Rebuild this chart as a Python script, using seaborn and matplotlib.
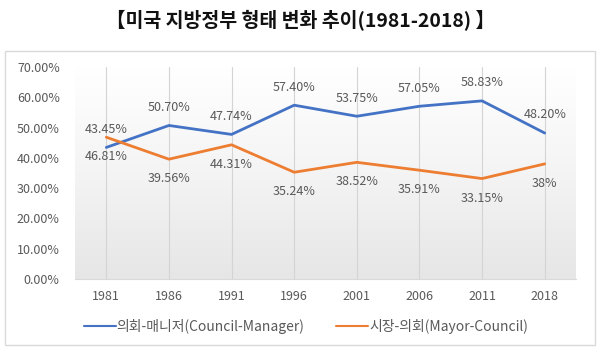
import numpy as np
import pandas as pd
import seaborn as sns
import matplotlib.pyplot as plt
from matplotlib.patches import Rectangle
from matplotlib.colors import LinearSegmentedColormap
from matplotlib.ticker import FuncFormatter

# -------------------------------------------------------------------
# Style
# -------------------------------------------------------------------
sns.set_style("white")
plt.rcParams['font.family'] = ['Noto Sans CJK KR', 'DejaVu Sans']

label_gray = "#595959"

# -------------------------------------------------------------------
# Data (share of local government forms, %)
# -------------------------------------------------------------------
years = ["1981", "1986", "1991", "1996", "2001", "2006", "2011", "2018"]
council_manager = [43.45, 50.70, 47.74, 57.40, 53.75, 57.05, 58.83, 48.20]
mayor_council = [46.81, 39.56, 44.31, 35.24, 38.52, 35.91, 33.15, 38]
series_names = ["의회-매니저(Council-Manager)", "시장-의회(Mayor-Council)"]
series_colors = ["#4472C4", "#ED7D31"]
title = "【미국 지방정부 형태 변화 추이(1981-2018) 】"

df = pd.DataFrame({
    "year": years * 2,
    "share": council_manager + mayor_council,
    "type": [series_names[0]] * len(years) + [series_names[1]] * len(years),
})

# -------------------------------------------------------------------
# Figure
# -------------------------------------------------------------------
fig = plt.figure(figsize=(6, 3.53), dpi=100)
ax = fig.add_axes([0.125, 0.21, 0.835, 0.60])

sns.lineplot(
    data=df,
    x="year",
    y="share",
    hue="type",
    palette=series_colors,
    linewidth=2,
    sort=False,
    ax=ax,
)

# Plot area gradient (white on top, light gray at bottom)
grad_cmap = LinearSegmentedColormap.from_list("plotarea", ["#ffffff", "#f4f4f4", "#e6e6e6"])
ax.imshow(
    np.linspace(0, 1, 256).reshape(-1, 1),
    cmap=grad_cmap,
    extent=[-0.5, len(years) - 0.5, 0, 70],
    aspect="auto",
    interpolation="bilinear",
    zorder=0,
)

ax.set_xlim(-0.5, len(years) - 0.5)
ax.set_ylim(0, 70)
ax.set_yticks(range(0, 71, 10))
ax.yaxis.set_major_formatter(FuncFormatter(lambda v, p: f"{v:.2f}%"))
ax.set_xlabel("")
ax.set_ylabel("")
ax.tick_params(axis="both", length=0, labelsize=9, labelcolor=label_gray)
ax.tick_params(axis="y", pad=11)
ax.tick_params(axis="x", pad=8)

ax.grid(axis="x", color="#d4d4d4", linewidth=0.8)
ax.grid(axis="y", visible=False)
ax.set_axisbelow(True)
for side in ["top", "left", "right"]:
    ax.spines[side].set_visible(False)
ax.spines["bottom"].set_color("#d9d9d9")


# Data labels: blue above, orange below
def fmt(v):
    return f"{v}%" if isinstance(v, int) else f"{v:.2f}%"


for i, v in enumerate(council_manager):
    ax.annotate(fmt(v), (i, v), xytext=(0, 13), textcoords="offset points",
                ha="center", va="center", fontsize=9, color=label_gray)
for i, v in enumerate(mayor_council):
    ax.annotate(fmt(v), (i, v), xytext=(0, -14), textcoords="offset points",
                ha="center", va="center", fontsize=9, color=label_gray)

# Legend below the axis
handles, labels = ax.get_legend_handles_labels()
ax.get_legend().remove()
for h in handles:
    h.set_linewidth(1.5)
fig.legend(handles, labels, loc="center", bbox_to_anchor=(0.51, 1 - 326 / 353), ncol=2,
           frameon=False, fontsize=10, labelcolor=label_gray,
           handlelength=2.3, handletextpad=0.05, columnspacing=2.3)

# Chart frame and title
fig.patches.append(Rectangle((5 / 600, 1 - 345 / 353), 590 / 600, 294 / 353,
                             transform=fig.transFigure, fill=False,
                             edgecolor="#d9d9d9", linewidth=1))
fig.text(0.5, 1 - 21 / 353, title, ha="center", va="center",
         fontsize=14, fontweight="bold", color="#111111")

plt.savefig("out.png", dpi=100)
